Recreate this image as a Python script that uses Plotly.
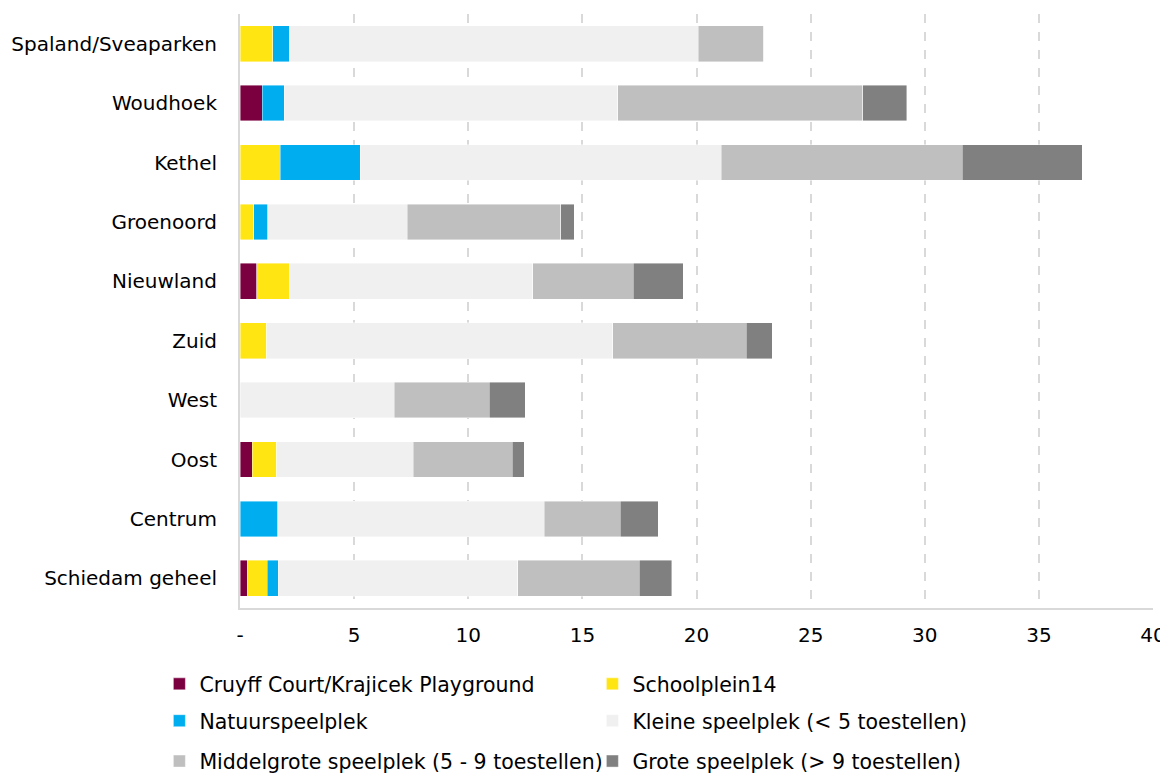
import plotly.graph_objects as go

categories = ["Spaland/Sveaparken", "Woudhoek", "Kethel", "Groenoord", "Nieuwland",
              "Zuid", "West", "Oost", "Centrum", "Schiedam geheel"]

cruyff = [0, 0.98, 0, 0, 0.73, 0, 0, 0.54, 0, 0.32]
schoolplein = [1.44, 0, 1.77, 0.61, 1.46, 1.17, 0, 1.08, 0, 0.88]
natuur = [0.71, 0.96, 3.50, 0.61, 0, 0, 0, 0, 1.66, 0.47]
kleine = [17.92, 14.61, 15.82, 6.11, 10.64, 15.16, 6.75, 5.97, 11.66, 10.50]
middel = [2.88, 10.73, 10.55, 6.73, 4.39, 5.84, 4.18, 4.34, 3.35, 5.32]
grote = [0, 1.94, 5.26, 0.58, 2.19, 1.15, 1.57, 0.52, 1.66, 1.42]

series = [
    ("Cruyff Court/Krajicek Playground", cruyff, "#7b003f", "legend"),
    ("Schoolplein14", schoolplein, "#ffe512", "legend"),
    ("Natuurspeelplek", natuur, "#00aeef", "legend2"),
    ("Kleine speelplek (< 5 toestellen)", kleine, "#f0f0f0", "legend2"),
    ("Middelgrote speelplek (5 - 9 toestellen)", middel, "#bfbfbf", "legend3"),
    ("Grote speelplek (> 9 toestellen)", grote, "#808080", "legend3"),
]

tick_vals = [0, 5, 10, 15, 20, 25, 30, 35, 40]
tick_text = ["-", "5", "10", "15", "20", "25", "30", "35", "40"]

FONT = "DejaVu Sans"
fig = go.Figure()
for name, vals, color, leg in series:
    fig.add_trace(go.Bar(
        y=categories, x=vals, name=name, orientation="h",
        marker=dict(color=color, line=dict(color="rgba(255,255,255,0.7)", width=0.6)),
        legend=leg,
    ))

legend_common = dict(orientation="h", entrywidth=388, xanchor="left", yanchor="middle",
                     font=dict(family=FONT, size=20.5, color="#000000"),
                     bgcolor="rgba(0,0,0,0)", itemclick=False, traceorder="normal")

LX = -0.0883
# page body has an 8px margin, so the figure is sized/placed to compensate
fig.update_layout(
    width=1160, height=766,
    margin=dict(l=232, r=15, t=6, b=166, autoexpand=False),
    barmode="stack", bargap=0.4,
    plot_bgcolor="white", paper_bgcolor="white",
    font=dict(family=FONT, size=20, color="#000000"),
    xaxis=dict(range=[0, 40], tickvals=tick_vals, ticktext=tick_text,
               showgrid=True, gridcolor="#d9d9d9", griddash="dash", gridwidth=1.5,
               zeroline=False, showline=True, linecolor="#d9d9d9", linewidth=2,
               ticks="", ticklabelstandoff=8, tickfont=dict(size=20), automargin=False),
    yaxis=dict(categoryorder="array", categoryarray=categories, autorange="reversed",
               showgrid=False, zeroline=False, showline=True, linecolor="#d9d9d9", linewidth=2,
               ticks="", ticklabelstandoff=17, tickfont=dict(size=20), automargin=False),
    legend=dict(**legend_common, x=LX, y=-0.128),
    legend2=dict(**legend_common, x=LX, y=-0.190),
    legend3=dict(**legend_common, x=LX, y=-0.258),
    showlegend=True,
)

fig.write_html("out.html")
